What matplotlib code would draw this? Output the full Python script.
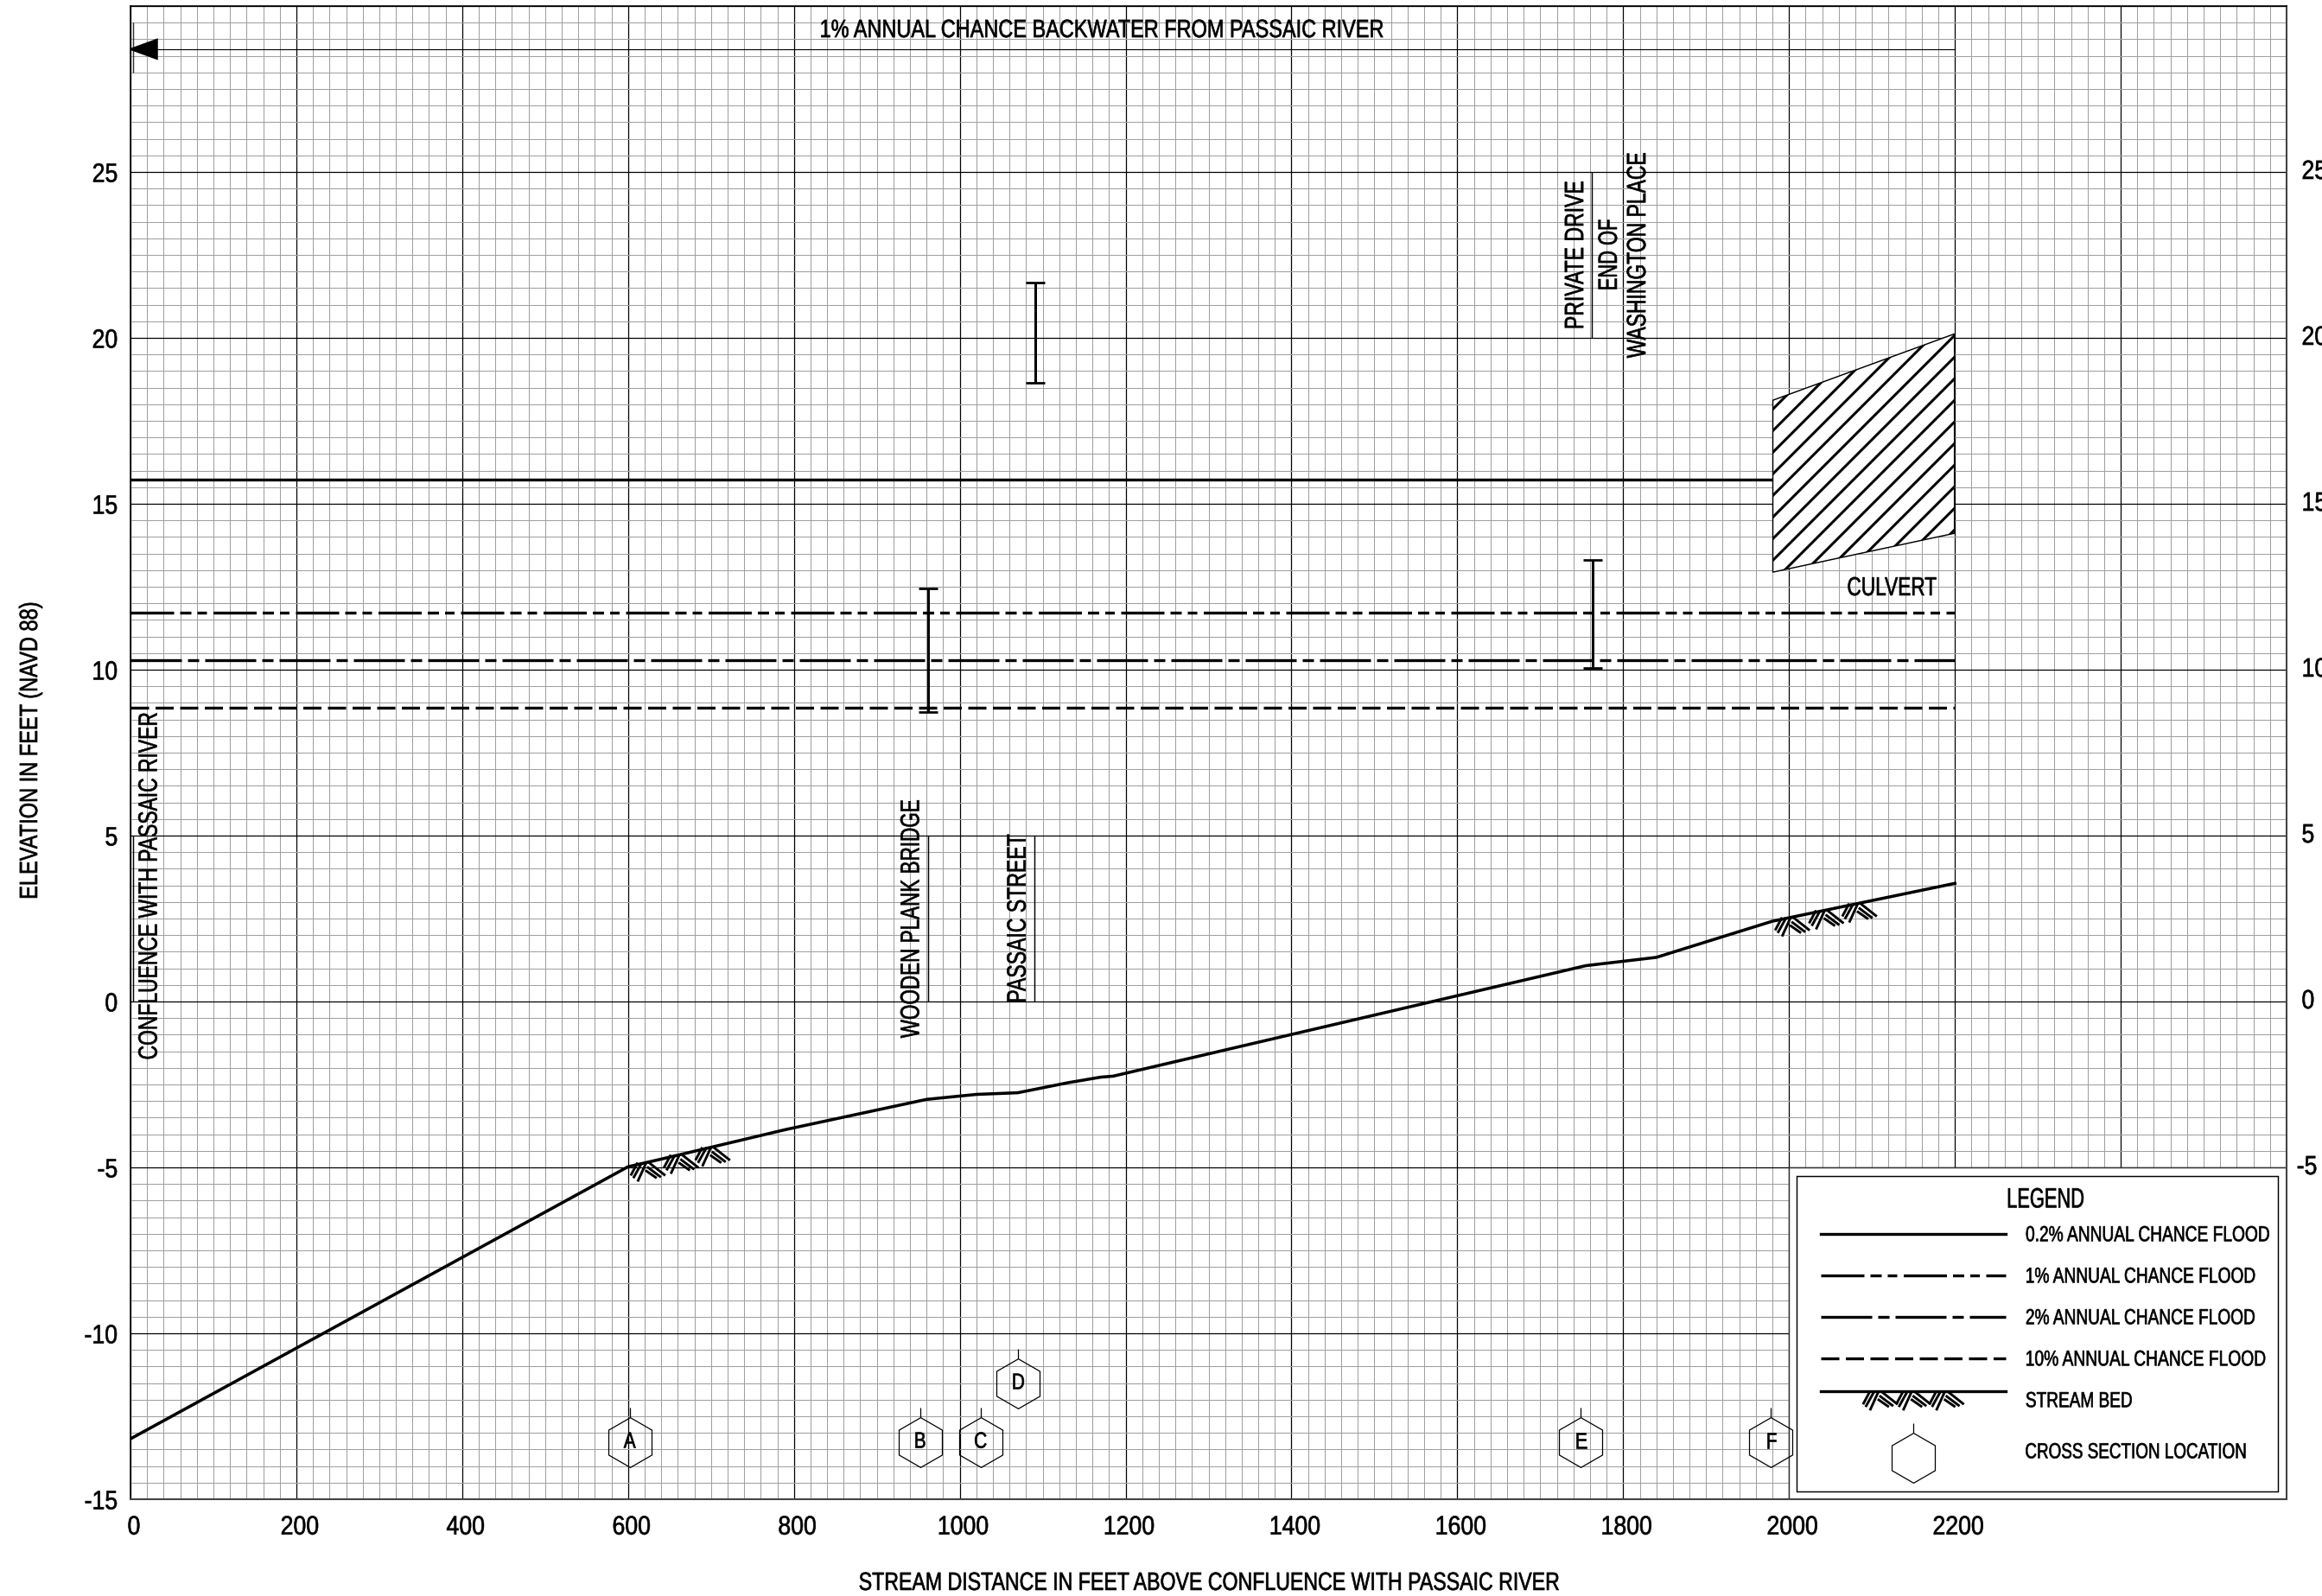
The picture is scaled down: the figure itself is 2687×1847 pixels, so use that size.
import matplotlib
matplotlib.use("Agg")
import matplotlib.pyplot as plt
import matplotlib.transforms as mtrans
from matplotlib.patches import Polygon, Rectangle
from matplotlib.patheffects import AbstractPathEffect
from matplotlib.ticker import MultipleLocator
import numpy as np

plt.rcParams["font.family"] = ["Liberation Sans"]
plt.rcParams["lines.scale_dashes"] = False
plt.rcParams["hatch.linewidth"] = 1.45

# Perfil del cauce
bed_x = [0, 600, 640, 790, 960, 1020, 1070, 1130, 1170, 1185, 1755, 1840, 1980, 2200]
bed_y = [-13.18, -4.98, -4.75, -3.86, -2.95, -2.8, -2.75, -2.45, -2.28, -2.25, 1.08, 1.33, 2.42, 3.56]
bed_hatch_a = [622, 662, 700]
bed_hatch_b = [2002, 2043, 2083]

# Niveles de inundacion
flood_02 = 15.72
flood_1 = 11.72
flood_2 = 10.28
flood_10 = 8.85
backwater = 28.7
flood_02_end = 1980
flood_end = 2200

# Alcantarilla
culvert_x = [1980.5, 2199.5, 2199.5, 1980.5]
culvert_y = [18.12, 20.12, 14.11, 12.94]

# Estructuras
bar_x = [1091, 962, 1763]
bar_low = [18.65, 8.73, 10.06]
bar_high = [21.66, 12.45, 13.32]
ref_x = [3, 961.5, 1090, 1762]
ref_low = [0, 0, 0, 20]
ref_high = [5, 5, 5, 25]

# Secciones
section_names = ["A", "B", "C", "D", "E", "F"]
section_x = [602, 952, 1025, 1070.5, 1749, 1978]
section_y = [-13.27, -13.27, -13.27, -11.5, -13.27, -13.27]

x_major = list(range(0, 2601, 200))
x_labels = [str(v) if v <= 2200 else "" for v in x_major]
y_major = list(range(-15, 31, 5))
y_labels = [str(v) if v <= 25 else "" for v in y_major]
right_labels = [25, 20, 15, 10, 5, 0, -5]

# texto, x, y, ancho en pixeles
vertical_notes = [
    ("CONFLUENCE WITH PASSAIC RIVER", 23.5, 3.49, 400),
    ("WOODEN PLANK BRIDGE", 942.5, 2.5, 275),
    ("PASSAIC STREET", 1071, 2.5, 193),
    ("PRIVATE DRIVE", 1743.5, 22.5, 169),
    ("END OF", 1784, 22.5, 80),
    ("WASHINGTON PLACE", 1818.5, 22.5, 237),
]

legend_names = ["0.2% ANNUAL CHANCE FLOOD", "1% ANNUAL CHANCE FLOOD", "2% ANNUAL CHANCE FLOOD",
                "10% ANNUAL CHANCE FLOOD", "STREAM BED", "CROSS SECTION LOCATION"]
legend_widths = [281, 264, 264, 276, 122, 254]
legend_text_y = [-7.04, -8.29, -9.54, -10.79, -12.04, -13.58]
legend_line_y = [-7, -8.25, -9.5, -10.75, -11.75]

W, H = 2687, 1847
DPI = 150
PX_X = 1 / 0.96    # pies por pixel
PX_Y = 1 / 38.39   # elevacion por pixel


class Narrow(AbstractPathEffect):
    # no hay fuente condensada instalada: se estrecha el texto a lo ancho
    def __init__(self, width=None, factor=None, anchor="center"):
        super().__init__()
        self.width = width
        self.factor = factor
        self.anchor = anchor

    def draw_path(self, renderer, gc, tpath, affine, rgbFace=None):
        ext = tpath.get_extents()
        m = affine.get_matrix()
        scale = np.hypot(m[0, 0], m[1, 0])
        sx = self.factor if self.factor else self.width / (ext.width * scale)
        if self.anchor == "left":
            x0 = ext.x0
        elif self.anchor == "right":
            x0 = ext.x1
        else:
            x0 = (ext.x0 + ext.x1) / 2
        local = mtrans.Affine2D().translate(-x0, 0).scale(sx, 1).translate(x0, 0)
        gc.set_linewidth(0.15 * renderer.points_to_pixels(1))
        gc.set_foreground("black")
        renderer.draw_path(gc, tpath, local + affine, rgbFace)


def px(values):
    return [v * 72 / DPI for v in values]


dash_1 = (0, px([50, 7, 13, 7, 11, 7.5]))
dash_2 = (0, px([59, 7, 13, 7]))
dash_10 = (0, px([21, 7.5]))
LINE_W = 1.6

fig = plt.figure(figsize=(W / DPI, H / DPI), dpi=DPI)
ax = fig.add_axes([151 / W, 1 - 1735 / H, (2646 - 151) / W, (1735 - 7) / H])
ax.set_xlim(0, 2600)
ax.set_ylim(-15, 30)

ax.set_xticks(x_major)
ax.set_xticklabels(x_labels)
ax.set_yticks(y_major)
ax.set_yticklabels(y_labels)
ax.xaxis.set_minor_locator(MultipleLocator(20))
ax.yaxis.set_minor_locator(MultipleLocator(0.5))
ax.tick_params(which="both", length=0)
ax.tick_params(axis="both", labelsize=14.7)
ax.tick_params(axis="x", pad=8.5)
ax.tick_params(axis="y", pad=7)
ax.grid(which="minor", color="#a0a0a0", linewidth=0.5)
ax.grid(which="major", color="black", linewidth=0.6)
ax.set_axisbelow(True)

offset = mtrans.ScaledTranslation(4 / DPI, 0, fig.dpi_scale_trans)
for lab in ax.get_xticklabels():
    lab.set_transform(lab.get_transform() + offset)
    lab.set_path_effects([Narrow(factor=0.87)])
for lab in ax.get_yticklabels():
    lab.set_path_effects([Narrow(factor=0.87, anchor="right")])

for side in ["top", "left"]:
    ax.spines[side].set_linewidth(0.8)
for side in ["bottom", "right"]:
    ax.spines[side].set_linewidth(1.0)
    ax.spines[side].set_color("#444444")

# Etiquetas de la derecha
for v in right_labels:
    ax.text(2618 if v >= 0 else 2612, v, str(v), fontsize=14.7, va="center", ha="left", clip_on=False,
            path_effects=[Narrow(factor=0.87, anchor="left")])


def draw_bed_hatch(apex_x, apex_y):
    # tres trazos paralelos a cada lado del vertice
    left = [((-10, 0), (-18, -15)), ((-5, 0), (-15, -18)), ((0, 0), (-10, -22))]
    right = [((3, 0), (22, -15)), ((1, -5), (17, -17)), ((-1, -9), (12, -18))]
    for xa, ya in zip(apex_x, apex_y):
        for (p0, p1) in left + right:
            ax.plot([xa + p0[0] * PX_X, xa + p1[0] * PX_X],
                    [ya + p0[1] * PX_Y, ya + p1[1] * PX_Y],
                    color="black", lw=1.4, solid_capstyle="butt", zorder=3)


def draw_section(x, y, name=None):
    ax.plot([x], [y], marker="h", ms=27.7, mfc="none", mec="black", mew=0.6, ls="none", zorder=6)
    ax.vlines(x, y + 29 * PX_Y, y + 40 * PX_Y, color="black", lw=0.6, zorder=6)
    if name:
        ax.text(x, y, name, fontsize=12.5, ha="center", va="center", zorder=6,
                path_effects=[Narrow(factor=0.8)])


# Cuadro de la leyenda
ax.add_patch(Rectangle((2000, -15), 600, 10, facecolor="white", edgecolor="#333333", lw=0.7, zorder=2))
ax.add_patch(Rectangle((2009, -14.77), 581, 9.51, facecolor="none", edgecolor="black", lw=0.7, zorder=2.5))

# Curvas
ax.plot([0, flood_02_end], [flood_02, flood_02], color="black", lw=LINE_W, zorder=4)
ax.plot([0, flood_end], [flood_1, flood_1], color="black", lw=LINE_W, ls=dash_1, zorder=4)
ax.plot([0, flood_end], [flood_2, flood_2], color="black", lw=LINE_W, ls=dash_2, zorder=4)
ax.plot([0, flood_end], [flood_10, flood_10], color="black", lw=LINE_W, ls=dash_10, zorder=4)
ax.plot(bed_x, bed_y, color="black", lw=1.7, zorder=4)

draw_bed_hatch(bed_hatch_a, np.interp(bed_hatch_a, bed_x, bed_y))
draw_bed_hatch(bed_hatch_b, np.interp(bed_hatch_b, bed_x, bed_y))

# Remanso
ax.plot([30, flood_end], [backwater, backwater], color="black", lw=0.55, zorder=3)
ax.fill([0, 32, 32], [backwater, backwater + 0.29, backwater - 0.29], color="black", zorder=5)
ax.vlines(3, 28.0, 29.5, color="#333333", lw=0.7, zorder=3)
ax.text(1170, 29.27, "1% ANNUAL CHANCE BACKWATER FROM PASSAIC RIVER", fontsize=14,
        ha="center", va="center", path_effects=[Narrow(width=650)])

# Alcantarilla
ax.add_patch(Polygon(list(zip(culvert_x, culvert_y)), closed=True, facecolor="white",
                     edgecolor="black", lw=0.7, hatch="//", zorder=4.5))
ax.text(2124, 12.45, "CULVERT", fontsize=14.5, ha="center", va="center",
        path_effects=[Narrow(width=102)])

# Estructuras
ax.vlines(bar_x, bar_low, bar_high, color="black", lw=1.45, zorder=5)
ax.hlines(bar_low, np.array(bar_x) - 11.5, np.array(bar_x) + 11.5, color="black", lw=1.3, zorder=5)
ax.hlines(bar_high, np.array(bar_x) - 11.5, np.array(bar_x) + 11.5, color="black", lw=1.3, zorder=5)
ax.vlines(ref_x, ref_low, ref_high, color="black", lw=0.7, zorder=3)

for txt, x, y, width in vertical_notes:
    ax.text(x, y, txt, rotation=90, fontsize=14.8, ha="center", va="center", zorder=5,
            path_effects=[Narrow(width=width)])

for name, x, y in zip(section_names, section_x, section_y):
    draw_section(x, y, name)

# Leyenda
styles = ["-", dash_1, dash_2, dash_10, "-"]
for y, st in zip(legend_line_y, styles):
    ax.plot([2038.5, 2261], [y, y], color="black", lw=LINE_W, ls=st, zorder=4)
draw_bed_hatch([2108, 2148, 2188], [-11.75] * 3)
draw_section(2149.5, -13.74)

ax.text(2309, -6.0, "LEGEND", fontsize=15.5, ha="center", va="center", zorder=5,
        path_effects=[Narrow(width=87)])
for txt, y, width in zip(legend_names, legend_text_y, legend_widths):
    # centrado para que la caja del texto sin estrechar no salga de la figura
    ax.text(2286 + width * PX_X / 2, y, txt, fontsize=12, ha="center", va="center", zorder=5,
            path_effects=[Narrow(width=width)])

fig.text(1398 / W, 1 - 1832 / H, "STREAM DISTANCE IN FEET ABOVE CONFLUENCE WITH PASSAIC RIVER",
         fontsize=14, ha="center", va="center", path_effects=[Narrow(width=809)])
fig.text(35 / W, 1 - 869 / H, "ELEVATION IN FEET (NAVD 88)", rotation=90,
         fontsize=14, ha="center", va="center", path_effects=[Narrow(width=341)])

plt.savefig("out.png", dpi=DPI)
